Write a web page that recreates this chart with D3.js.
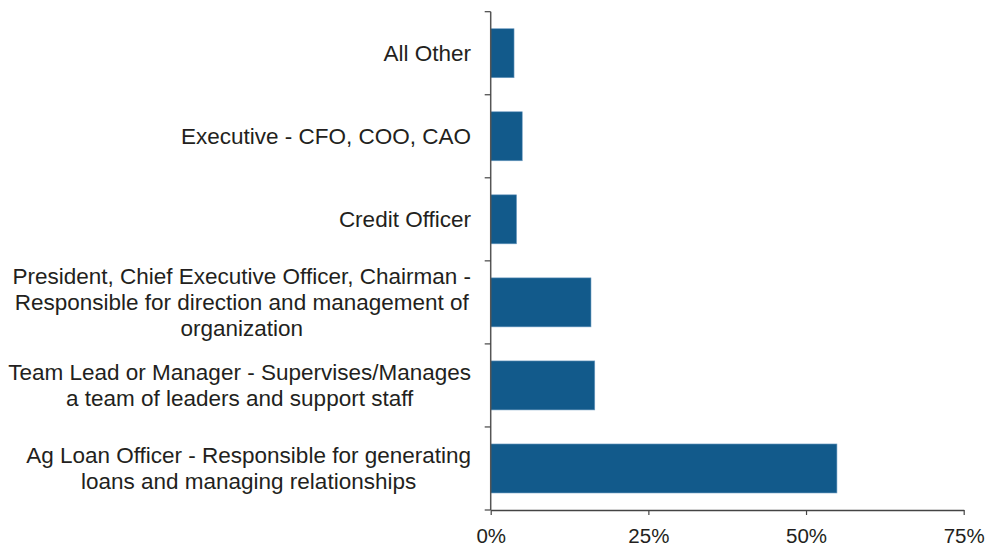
<!DOCTYPE html>
<html>
<head>
<meta charset="utf-8">
<script src="https://cdn.jsdelivr.net/npm/d3@7"></script>
<style>
  body { margin: 0; background: #fff; }
  svg { display: block; }
  text { font-family: "Liberation Sans", Arial, sans-serif; fill: #231f20; }
</style>
</head>
<body>
<svg width="987" height="548"></svg>
<script>
// categories, top to bottom
var categories = [
  "All Other",
  "Executive - CFO, COO, CAO",
  "Credit Officer",
  "President, Chief Executive Officer, Chairman - Responsible for direction and management of organization",
  "Team Lead or Manager - Supervises/Manages a team of leaders and support staff",
  "Ag Loan Officer - Responsible for generating loans and managing relationships"
];
// wrapped label lines
var labelLines = [
  ["All Other"],
  ["Executive - CFO, COO, CAO"],
  ["Credit Officer"],
  ["President, Chief Executive Officer, Chairman -", "Responsible for direction and management of", "organization"],
  ["Team Lead or Manager - Supervises/Manages", "a team of leaders and support staff"],
  ["Ag Loan Officer - Responsible for generating", "loans and managing relationships"]
];
var shares = [0.037, 0.050, 0.041, 0.159, 0.165, 0.549];
var xTicks = [0, 0.25, 0.5, 0.75];

var svg = d3.select('svg');
var plotL = 490.7, plotR = 963.7, plotT = 11.7, plotB = 510;

var x = d3.scaleLinear().domain([0, 0.75]).range([plotL, plotR]);
var y = d3.scaleBand().domain(categories).range([plotT, plotB]).paddingInner(0.41).paddingOuter(0.205);

// bars
svg.selectAll('rect.bar')
   .data(categories)
   .enter()
   .append('rect')
   .attr('class', 'bar')
   .attr('x', x(0))
   .attr('y', function(d){ return y(d); })
   .attr('width', function(d, i){ return x(shares[i]) - x(0); })
   .attr('height', y.bandwidth())
   .attr('fill', '#125a8b')
   .attr('stroke', '#6f9cc2')
   .attr('stroke-width', 0.6);

// y axis line + ticks at category boundaries
var step = (plotB - plotT) / categories.length;
svg.append('line')
   .attr('x1', plotL).attr('x2', plotL)
   .attr('y1', plotT).attr('y2', plotB)
   .attr('stroke', '#555').attr('stroke-width', 1.5);
svg.selectAll('line.ytick')
   .data(d3.range(categories.length + 1))
   .enter()
   .append('line')
   .attr('class', 'ytick')
   .attr('x1', plotL - 6).attr('x2', plotL)
   .attr('y1', function(i){ return plotT + i * step; })
   .attr('y2', function(i){ return plotT + i * step; })
   .attr('stroke', '#444').attr('stroke-width', 1.2);

// x axis
var xAxis = d3.axisBottom(x)
   .tickValues(xTicks)
   .tickFormat(d3.format('.0%'))
   .tickSizeInner(5)
   .tickSizeOuter(0)
   .tickPadding(13);
var gx = svg.append('g')
   .attr('transform', 'translate(0,' + plotB + ')')
   .call(xAxis)
   .attr('font-size', 20.5)
   .attr('font-family', '"Liberation Sans", Arial, sans-serif');
gx.select('.domain').attr('stroke', '#444').attr('stroke-width', 1.5);
gx.selectAll('.tick line').attr('stroke', '#444').attr('stroke-width', 1.2);
gx.selectAll('.tick text').attr('fill', '#231f20');

// category labels
var lineH = 26;
var labels = svg.selectAll('text.cat')
   .data(categories)
   .enter()
   .append('text')
   .attr('class', 'cat')
   .attr('font-size', '22.5px')
   .attr('text-anchor', 'middle');

labels.each(function(d, i) {
   var lines = labelLines[i];
   var cy = y(d) + y.bandwidth() / 2;
   var t = d3.select(this);
   var widths = [];
   // measure to centre each block, right edge at 471
   lines.forEach(function(s) {
      var ts = t.append('tspan').text(s);
      widths.push(ts.node().getComputedTextLength());
   });
   var maxW = d3.max(widths);
   var cx = 471 - maxW / 2;
   t.selectAll('tspan')
    .attr('x', cx)
    .attr('y', function(s, j){ return cy + (j - (lines.length - 1) / 2) * lineH + 7.5; });
});
</script>
</body>
</html>
